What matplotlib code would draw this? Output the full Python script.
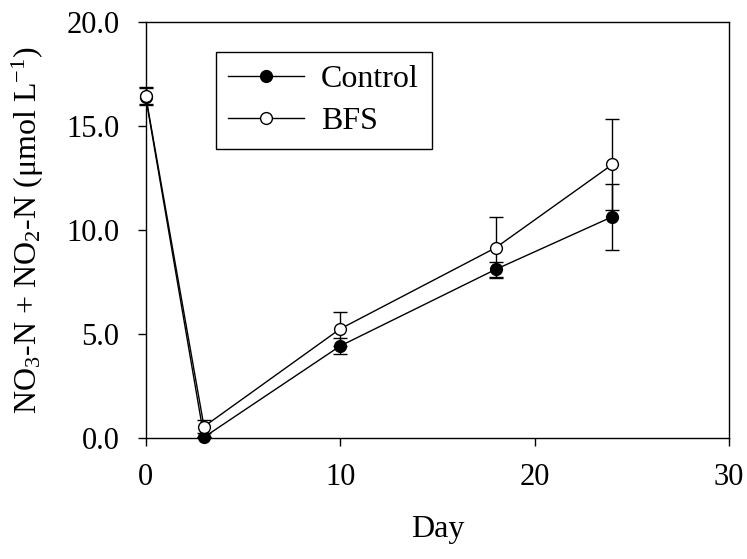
import matplotlib
matplotlib.use("Agg")
import matplotlib.pyplot as plt
from matplotlib.lines import Line2D
from matplotlib.ticker import FormatStrFormatter

plt.rcParams["font.family"] = ["Liberation Serif", "DejaVu Serif"]
plt.rcParams["mathtext.fontset"] = "custom"
plt.rcParams["mathtext.rm"] = "Liberation Serif"
plt.rcParams["mathtext.it"] = "Liberation Serif:italic"

days = [0, 3, 10, 18, 24]
control = [16.4, 0.05, 4.43, 8.11, 10.64]
control_err = [0.4, 0.0, 0.4, 0.35, 1.58]
bfs = [16.45, 0.56, 5.25, 9.15, 13.15]
bfs_err = [0.4, 0.32, 0.83, 1.46, 2.2]

x_ticks = [0, 10, 20, 30]
y_ticks = [0, 5, 10, 15, 20]

fig = plt.figure(figsize=(7.47, 5.59), dpi=100, facecolor="white")
ax = fig.add_axes([0.195, 0.216, 0.781, 0.745])

for vals, errs, fill, z in [(control, control_err, "black", 3),
                            (bfs, bfs_err, "white", 4)]:
    lines = ax.errorbar(days, vals, yerr=errs, color="black", lw=1.0,
                        marker="o", ms=8.5, mfc=fill, mec="black",
                        capsize=5, elinewidth=1.0, capthick=1.0, zorder=z)
    for art in lines.get_children():
        art.set_clip_on(False)

ax.set_xlim(0, 30)
ax.set_ylim(0, 20)
ax.set_xticks(x_ticks)
ax.set_yticks(y_ticks)
ax.yaxis.set_major_formatter(FormatStrFormatter("%.1f"))
ax.tick_params(direction="out", length=6, width=1, labelsize=22,
               top=False, right=False)
ax.tick_params(axis="y", pad=13)
ax.tick_params(axis="x", pad=12)
for s in ax.spines.values():
    s.set_linewidth(1.0)

ax.set_xlabel("Day", fontsize=23)
ax.xaxis.set_label_coords(0.5, -0.185)
ax.set_ylabel(r"NO$_3$-N + NO$_2$-N ($\mathrm{\mu}$mol L$^{-1}$)", fontsize=23)
ax.yaxis.set_label_coords(-0.17, 0.5)

handles = [
    Line2D([], [], color="black", lw=1.0, marker="o", ms=8.5, mfc="black", mec="black"),
    Line2D([], [], color="black", lw=1.0, marker="o", ms=8.5, mfc="white", mec="black"),
]
leg = ax.legend(handles, ["Control", "BFS"], loc="upper left",
                bbox_to_anchor=(0.12, 0.928), borderaxespad=0, fontsize=23,
                handlelength=2.35, handletextpad=0.55, borderpad=0.4,
                labelspacing=0.4, fancybox=False, framealpha=1,
                edgecolor="black")
leg.get_frame().set_linewidth(1.0)

fig.savefig("out.png", dpi=100, facecolor="white")
